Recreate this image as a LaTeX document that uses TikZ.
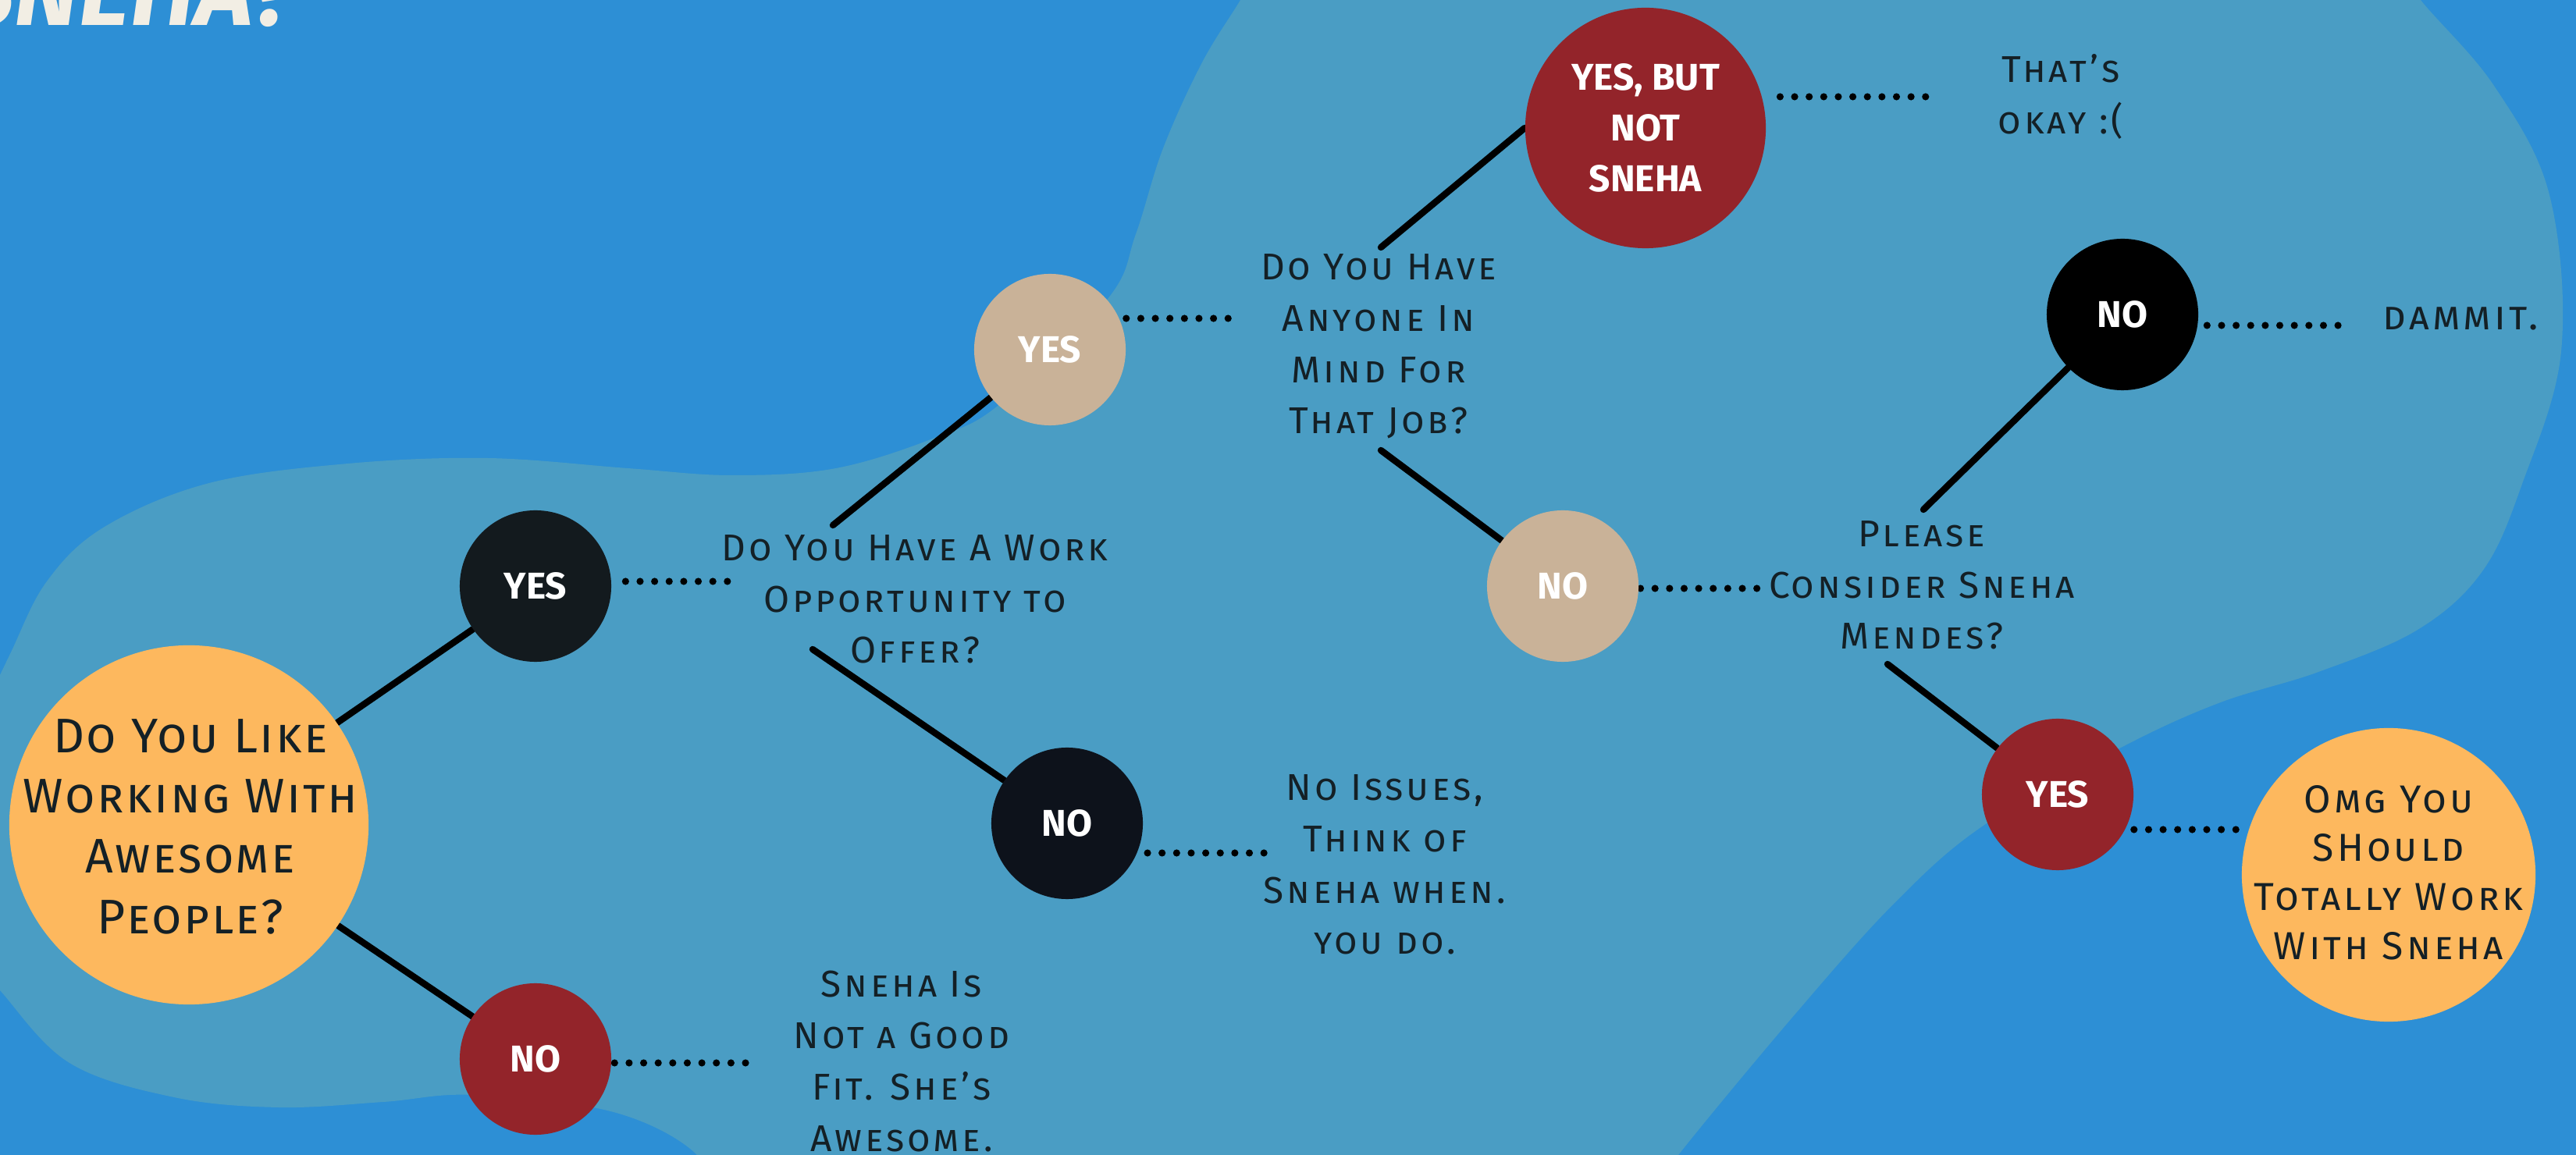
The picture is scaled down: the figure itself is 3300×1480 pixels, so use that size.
\documentclass[tikz,border=0pt]{standalone}
\usepackage{fontspec}
\setmainfont{Fira Sans}
\newfontfamily\hand{Fira Sans}[LetterSpace=8]
\newfontfamily\handbig{Fira Sans}[LetterSpace=4]
\definecolor{sea}{HTML}{2D8FD5}
\definecolor{blob}{HTML}{4A9DC4}
\definecolor{mango}{HTML}{FDB85E}
\definecolor{sand}{HTML}{C9B298}
\definecolor{wine}{HTML}{93242A}
\definecolor{coal}{HTML}{131A1E}
\definecolor{night}{HTML}{0D121B}
\definecolor{ink}{HTML}{142026}
\definecolor{cream}{HTML}{F2EEE4}
\pgfdeclarelayer{bottom}
\pgfdeclarelayer{links}
\pgfsetlayers{bottom,links,main}
\tikzset{
  ans/.style={circle, inner sep=0pt, minimum size=1.94cm, text=white, align=center,
    font=\fontsize{13.6}{18.4}\selectfont\bfseries},
  say/.style={inner sep=0pt, align=center, text=ink, font=\fontsize{13.6}{18.7}\selectfont\hand\scshape},
  link/.style={line width=2.4pt, line cap=round},
  dotline/.style={line width=2.6pt, line cap=round, dash pattern=on 0pt off 5.3pt},
}
\begin{document}
\begin{tikzpicture}[x=0.01cm, y=-0.01cm]
    \useasboundingbox (0,0) rectangle (3300,1480);
    \clip (0,0) rectangle (3300,1480);

    % backdrop
    \begin{pgfonlayer}{bottom}
        \fill[sea] (0,0) rectangle (3300,1480);
        \fill[blob] plot[smooth, tension=0.6] coordinates {
                (-40,950) (12,840) (60,745) (134,675) (268,619) (446,594) (625,587) (804,600)
                (937,609) (1071,600) (1200,560) (1282,517) (1419,383) (1455,300)
                (1490,190) (1540,80) (1589,0) (1610,-40)}
            -- plot[smooth, tension=0.6] coordinates {
                (3080,-40) (3101,0) (3195,110) (3266,250) (3281,450) (3231,620)
                (3180,732) (3097,807) (2970,861) (2842,901) (2715,959) (2542,1057)
                (2428,1156) (2300,1299) (2150,1480) (2110,1540)}
            -- plot[smooth, tension=0.6] coordinates {
                (900,1540) (893,1480) (786,1425) (607,1403) (491,1412) (357,1419)
                (223,1406) (89,1362) (0,1269) (-40,1220)}
            -- cycle;
        \node[font=\fontsize{36}{36}\selectfont\bfseries\itshape, text=cream, anchor=base east]
            (title) at (392,33) {SNEHA?};
    \end{pgfonlayer}

    % first question
    \node[ans, fill=mango, minimum size=4.6cm] (like) at (242,1057) {};
    \node[say, font=\fontsize{17.7}{22}\selectfont\handbig\scshape] (liketxt) at (244,1059)
        {Do You Like\\Working With\\Awesome\\People?};
    \node[ans, fill=coal] (yesA) at (686,751) {YES};
    \node[ans, fill=wine] (noA) at (686,1357) {NO};
    \node[say] (offer) at (1172,768) {Do You Have A Work\\Opportunity to\\Offer?};
    \node[say] (fit) at (1155,1360) {Sneha Is\\Not a Good\\Fit. She’s\\Awesome.};

    % second question
    \node[ans, fill=sand] (yesB) at (1345,448) {YES};
    \node[ans, fill=night] (noB) at (1367,1055) {NO};
    \node[say] (anyone) at (1766,444) {Do You Have\\Anyone In\\Mind For\\That Job?};
    \node[say] (issues) at (1774,1108) {No Issues,\\Think of\\Sneha when.\\you do.};

    % third question
    \node[ans, fill=wine, minimum size=3.08cm] (yesbut) at (2108,164) {YES, BUT\\NOT\\SNEHA};
    \node[ans, fill=sand] (noC) at (2002,751) {NO};
    \node[say] (okay) at (2640,124) {That’s\\okay :(};
    \node[say] (please) at (2462,750) {Please\\Consider Sneha\\Mendes?};

    % last question
    \node[ans, fill=black] (noD) at (2719,403) {NO};
    \node[ans, fill=wine] (yesC) at (2636,1018) {YES};
    \node[say, font=\fontsize{14.5}{18.7}\selectfont\hand\scshape] (dammit) at (3152,408) {dammit.};
    \node[ans, fill=mango, minimum size=3.76cm] (omg) at (3060,1121) {};
    \node[say, font=\fontsize{14.2}{17.8}\selectfont\hand\scshape] (omgtxt) at (3060,1118)
        {Omg You\\SHould\\Totally Work\\With Sneha};

    % loose ends of the branches
    \coordinate (offerUp) at (1067,673);
    \coordinate (offerDn) at (1041,832);
    \coordinate (anyoneUp) at (1769,317);
    \coordinate (anyoneDn) at (1769,577);
    \coordinate (pleaseUp) at (2464,653);
    \coordinate (pleaseDn) at (2418,851);
    \coordinate (dA) at (940,745);
    \coordinate (dB) at (961,1362);
    \coordinate (dC) at (1575,408);
    \coordinate (dD) at (1630,1093);
    \coordinate (dE) at (2480,124);
    \coordinate (dF) at (2256,754);
    \coordinate (dG) at (3010,417);
    \coordinate (dH) at (2868,1063);

    \begin{pgfonlayer}{links}
        \draw[link] (like) -- (yesA);
        \draw[link] (like) -- (noA);
        \draw[link] (offerUp) -- (yesB);
        \draw[link] (offerDn) -- (noB);
        \draw[link] (anyoneUp) -- (yesbut.west);
        \draw[link] (anyoneDn) -- (noC);
        \draw[link] (pleaseUp) -- (noD);
        \draw[link] (pleaseDn) -- (yesC);

        \draw[dotline, shorten <=5pt] (yesA.east |- dA) -- (dA);
        \draw[dotline, shorten <=1pt] (noA.east |- dB) -- (dB);
        \draw[dotline] (yesB.east |- dC) -- (dC);
        \draw[dotline, shorten <=1.5pt] (noB.east |- dD) -- (dD);
        \draw[dotline, shorten <=5pt] (yesbut.east |- dE) -- (dE);
        \draw[dotline, shorten <=0.5pt] (noC.east |- dF) -- (dF);
        \draw[dotline, shorten <=3pt] (noD.east |- dG) -- (dG);
        \draw[dotline] (yesC.east |- dH) -- (dH);
    \end{pgfonlayer}
\end{tikzpicture}
\end{document}
